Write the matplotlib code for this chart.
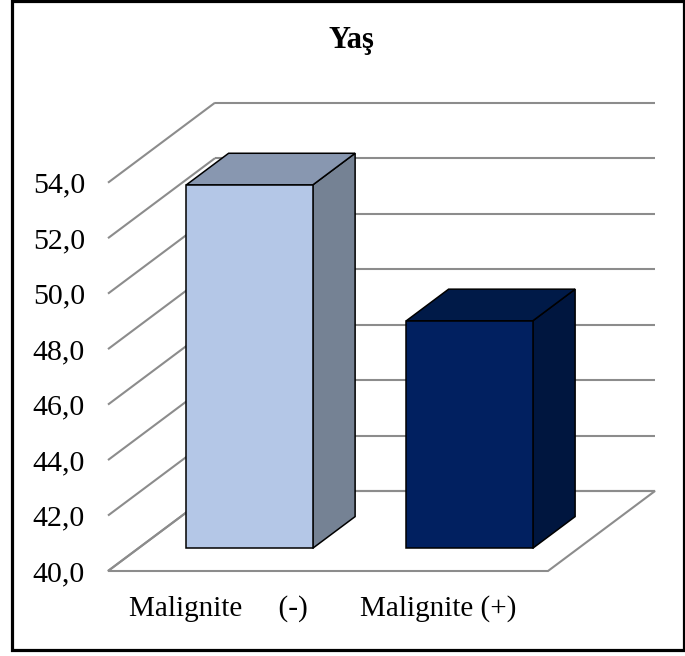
import matplotlib
matplotlib.use("Agg")
import matplotlib.pyplot as plt
from matplotlib.patches import Polygon, Rectangle
import numpy as np

# ---- data ----
categories = ["Malignite     (-)", "Malignite (+)"]
values = [53.1, 48.2]
yticks = [40, 42, 44, 46, 48, 50, 52, 54]
ytick_labels = ["40,0", "42,0", "44,0", "46,0", "48,0", "50,0", "52,0", "54,0"]
title = "Yaş"

front_colors = ["#B4C7E7", "#012060"]
top_colors = ["#8897B0", "#001A48"]
side_colors = ["#758294", "#00163F"]

W, H = 685, 656
fig = plt.figure(figsize=(W / 100, H / 100), dpi=100)
plt.rcParams['font.family'] = ['Liberation Serif', 'DejaVu Serif']

# front plane of the 3D box
ymin, ymax = yticks[0], yticks[-1]
ax = fig.add_axes([108 / W, 85 / H, 440 / W, 388.3 / H])
ax.set_xlim(0, len(categories))
ax.set_ylim(ymin, ymax)
for s in ax.spines.values():
    s.set_visible(False)
ax.patch.set_alpha(0)

# oblique depth projection in data units (full depth)
px_per_x = 440 / len(categories)
px_per_y = 388.3 / (ymax - ymin)
KX = 107 / px_per_x
KY = 80 / px_per_y


def P(x, y, d):
    return (x + d * KX, y + d * KY)


grid_c = "#8C8C8C"
glw = 1.5
n = len(categories)

# floor
floor = Polygon([P(0, ymin, 0), P(n, ymin, 0), P(n, ymin, 1), P(0, ymin, 1)],
                closed=True, facecolor="white", edgecolor=grid_c, lw=glw,
                clip_on=False, zorder=1)
ax.add_patch(floor)

# back wall gridlines and side wall diagonals
for v in yticks:
    a, b = P(0, v, 1), P(n, v, 1)
    ax.plot([a[0], b[0]], [a[1], b[1]], color=grid_c, lw=glw, clip_on=False, zorder=1,
            solid_capstyle="butt")
    a, b = P(0, v, 0), P(0, v, 1)
    ax.plot([a[0], b[0]], [a[1], b[1]], color=grid_c, lw=glw, clip_on=False, zorder=1,
            solid_capstyle="butt")

# bars
bw = 0.575
d0, d1 = 0.284, 0.68
ek = dict(edgecolor="black", lw=1.1, clip_on=False, joinstyle="miter")
for i, v in enumerate(values):
    xc = i + 0.505
    x0, x1 = xc - bw / 2, xc + bw / 2
    front = [P(x0, ymin, d0), P(x1, ymin, d0), P(x1, v, d0), P(x0, v, d0)]
    top = [P(x0, v, d0), P(x1, v, d0), P(x1, v, d1), P(x0, v, d1)]
    side = [P(x1, ymin, d0), P(x1, ymin, d1), P(x1, v, d1), P(x1, v, d0)]
    ax.add_patch(Polygon(side, closed=True, facecolor=side_colors[i], zorder=3, **ek))
    ax.add_patch(Polygon(top, closed=True, facecolor=top_colors[i], zorder=3, **ek))
    ax.add_patch(Polygon(front, closed=True, facecolor=front_colors[i], zorder=4, **ek))

ax.set_yticks(yticks)
ax.set_yticklabels(ytick_labels, fontsize=21.5)
ax.set_xticks([i + 0.5 for i in range(n)])
ax.set_xticklabels(categories, fontsize=21)
ax.tick_params(axis="y", length=0, pad=16.5)
ax.tick_params(axis="x", length=0, pad=17)

fig.text(351.5 / W, 1 - 48 / H, title, fontsize=22, fontweight="bold",
         ha="center", va="baseline")

# outer border
fig.add_artist(Rectangle((12.5 / W, 6 / H), (684 - 12.5) / W, (655 - 6) / H,
                         transform=fig.transFigure, fill=False, edgecolor="black",
                         lw=2.3))

fig.savefig("out.png", dpi=100)
